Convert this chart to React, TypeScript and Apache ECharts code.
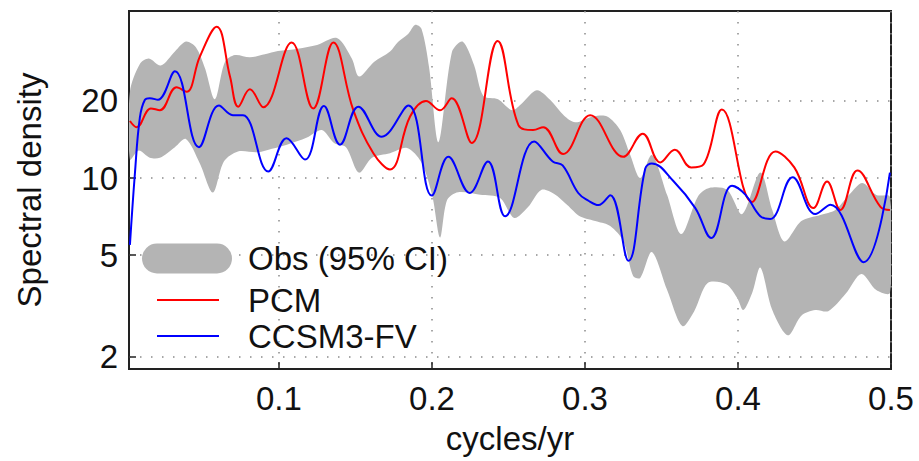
import React, { useEffect, useRef } from "react";
import * as echarts from "echarts";

// ---- Data (frequency in cycles/yr, spectral density) ----
const pcmFreq = [0.0026, 0.007, 0.0163, 0.0222, 0.0331, 0.0396, 0.0483, 0.0593, 0.068, 0.0734, 0.081, 0.0897, 0.1083, 0.1224, 0.1355, 0.1486, 0.1617, 0.1726, 0.1857, 0.1961, 0.2053, 0.2129, 0.226, 0.2429, 0.2565, 0.2661, 0.2727, 0.2857, 0.3034, 0.325, 0.3377, 0.3492, 0.3587, 0.3694, 0.3775, 0.3895, 0.4092, 0.4244, 0.4368, 0.4494, 0.4582, 0.4669, 0.478, 0.4931, 0.4993];
const pcmDensity = [16.7, 15.8, 18.7, 18.4, 22.6, 21.7, 29.8, 39.0, 24.9, 19.0, 22.2, 18.9, 33.8, 18.7, 33.8, 18.4, 12.5, 10.8, 17.4, 20.0, 18.4, 20.5, 13.7, 34.3, 16.1, 15.4, 15.8, 12.4, 17.6, 12.1, 14.9, 11.5, 12.9, 11.0, 11.3, 18.5, 8.06, 12.7, 11.0, 7.63, 9.7, 7.5, 10.7, 7.72, 7.5];

const ccsmFreq = [0.0026, 0.0058, 0.0091, 0.0124, 0.0156, 0.0209, 0.032, 0.0477, 0.0608, 0.0699, 0.0765, 0.093, 0.105, 0.117, 0.1294, 0.1399, 0.1519, 0.1672, 0.1846, 0.1999, 0.2107, 0.2247, 0.2366, 0.2478, 0.2668, 0.2789, 0.2854, 0.2956, 0.3023, 0.3088, 0.3165, 0.3284, 0.3394, 0.3437, 0.3579, 0.3721, 0.3825, 0.3961, 0.4048, 0.4146, 0.4211, 0.4357, 0.4505, 0.4604, 0.4821, 0.4993];
const ccsmDensity = [5.48, 10.3, 17.2, 20.2, 20.5, 20.2, 26.1, 13.2, 19.2, 17.6, 17.6, 10.6, 14.3, 11.8, 19.1, 13.5, 19.0, 14.5, 19.2, 8.54, 12.1, 8.74, 11.6, 7.09, 13.9, 11.6, 11.2, 8.74, 8.15, 7.84, 8.57, 4.75, 10.9, 11.4, 9.71, 7.63, 5.83, 9.32, 8.61, 7.09, 6.92, 10.06, 7.23, 7.87, 4.69, 10.5];

const obsUpperFreq = [0.0026, 0.0091, 0.015, 0.0228, 0.032, 0.0392, 0.0457, 0.0516, 0.0581, 0.0647, 0.0712, 0.081, 0.0908, 0.0993, 0.1124, 0.1249, 0.1379, 0.1477, 0.1523, 0.1621, 0.1726, 0.1778, 0.1844, 0.1889, 0.1932, 0.1981, 0.2043, 0.2131, 0.22, 0.2275, 0.2336, 0.2432, 0.2524, 0.2589, 0.2685, 0.2772, 0.2864, 0.2936, 0.3054, 0.3145, 0.323, 0.3296, 0.3361, 0.3437, 0.3537, 0.3629, 0.374, 0.3812, 0.393, 0.4028, 0.4146, 0.4224, 0.4303, 0.4414, 0.4538, 0.4636, 0.4728, 0.4813, 0.4904, 0.4993];
const obsUpperDensity = [21.7, 27.9, 29.3, 27.5, 31.2, 34.1, 32.4, 26.9, 20.3, 28.4, 30.2, 29.6, 30.4, 31.3, 32.0, 33.1, 35.2, 29.2, 24.9, 28.4, 31.2, 34.0, 36.5, 39.6, 38.2, 27.1, 13.8, 31.1, 34.1, 27.6, 20.9, 20.3, 18.4, 19.6, 22.0, 20.2, 17.5, 16.5, 17.4, 17.4, 15.4, 12.3, 10.0, 12.3, 8.58, 6.04, 8.51, 9.14, 8.98, 7.23, 10.5, 7.5, 5.65, 6.79, 7.17, 7.5, 8.62, 9.56, 8.58, 8.43];

const obsLowerFreq = [0.0026, 0.0084, 0.0156, 0.0222, 0.032, 0.0392, 0.0483, 0.0568, 0.064, 0.0732, 0.0863, 0.0954, 0.1052, 0.1183, 0.1281, 0.136, 0.1438, 0.1523, 0.1608, 0.1726, 0.1837, 0.1929, 0.2001, 0.2053, 0.2099, 0.2171, 0.2315, 0.2445, 0.2537, 0.2628, 0.2714, 0.2799, 0.2884, 0.2969, 0.308, 0.3165, 0.325, 0.3315, 0.3361, 0.3437, 0.3537, 0.3636, 0.3714, 0.3802, 0.3923, 0.3995, 0.4035, 0.4093, 0.4146, 0.4224, 0.4326, 0.4414, 0.4505, 0.459, 0.4702, 0.4806, 0.4904, 0.4993];
const obsLowerDensity = [11.8, 12.8, 12.0, 12.0, 13.2, 14.2, 11.4, 8.78, 11.6, 12.7, 12.6, 13.0, 13.5, 14.4, 15.4, 13.7, 13.2, 10.5, 12.0, 12.5, 13.1, 11.55, 8.58, 5.85, 8.2, 8.8, 8.6, 8.35, 6.98, 7.7, 8.98, 8.66, 7.84, 7.07, 6.76, 6.49, 5.67, 4.14, 4.07, 5.14, 3.65, 2.64, 3.02, 3.89, 3.85, 3.4, 3.05, 3.56, 4.47, 3.05, 2.43, 2.9, 3.05, 3.02, 3.52, 4.22, 3.65, 3.56];

const xTickValues = [0.1, 0.2, 0.3, 0.4, 0.5];
const yTickValues = [2, 5, 10, 20];

const X_MIN = 0.002;
const X_MAX = 0.5;
const Y_MIN = 1.795;
const Y_MAX = 44.9;

const GRAY = "#b4b4b4";
const FONT = "'Liberation Sans', Arial, Helvetica, sans-serif";
const FS = 33;

export default function App() {
  const ref = useRef<HTMLDivElement>(null);

  useEffect(() => {
    if (!ref.current) return;
    const chart = echarts.init(ref.current, null, { renderer: "svg" });
    const lg = (v: number) => Math.log10(v);

    const pcm = pcmFreq.map((f, i) => [f, lg(pcmDensity[i])]);
    const ccsm = ccsmFreq.map((f, i) => [f, lg(ccsmDensity[i])]);
    const lineIcon = "path://M0,0H62V2H0Z";

    const option: any = {
      animation: false,
      textStyle: { fontFamily: FONT },
      grid: {
        left: 129,
        right: 28,
        top: 11,
        bottom: 92,
        show: true,
        borderColor: "#222",
        borderWidth: 2,
        backgroundColor: "transparent",
        outerBoundsMode: "none",
      },
      xAxis: {
        type: "value",
        min: X_MIN,
        max: X_MAX,
        name: "cycles/yr",
        nameLocation: "middle",
        nameGap: 53,
        nameTextStyle: { fontSize: FS, color: "#111", fontFamily: FONT },
        axisLine: { show: false },
        axisTick: {
          show: true,
          inside: true,
          length: 7,
          customValues: xTickValues,
          lineStyle: { color: "#222", width: 1.5 },
        },
        axisLabel: {
          customValues: xTickValues,
          margin: 13,
          fontSize: FS,
          color: "#111",
          fontFamily: FONT,
          formatter: (v: number) => v.toFixed(1),
        },
        splitLine: {
          show: true,
          lineStyle: { color: "#8a8a8a", width: 1.5, type: [1.5, 9.5] },
        },
      },
      yAxis: {
        type: "value",
        min: lg(Y_MIN),
        max: lg(Y_MAX),
        name: "Spectral density",
        nameLocation: "middle",
        nameGap: 83,
        nameRotate: 90,
        nameTextStyle: { fontSize: FS, color: "#111", fontFamily: FONT },
        axisLine: { show: false },
        axisTick: {
          show: true,
          inside: true,
          length: 7,
          customValues: yTickValues.map(lg),
          lineStyle: { color: "#222", width: 1.5 },
        },
        axisLabel: {
          customValues: yTickValues.map(lg),
          margin: 11,
          fontSize: FS,
          color: "#111",
          fontFamily: FONT,
          formatter: (v: number) => String(Math.round(Math.pow(10, v))),
        },
        splitLine: {
          show: true,
          lineStyle: { color: "#8a8a8a", width: 1.5, type: [1.5, 9.5] },
        },
      },
      legend: [
        {
          data: [
            {
              name: "Obs (95% CI)",
              icon: "path://M15,0H75A15,15,0,0,1,75,30H15A15,15,0,0,1,15,0Z",
            },
          ],
          left: 137,
          top: 237,
          itemWidth: 90,
          itemHeight: 30,
          selectedMode: false,
          textStyle: {
            fontSize: FS,
            color: "#111",
            fontFamily: FONT,
            padding: [0, 0, 0, 11],
          },
        },
        {
          data: [
            { name: "PCM", icon: lineIcon },
            { name: "CCSM3-FV", icon: lineIcon },
          ],
          orient: "vertical",
          left: 152,
          top: 278,
          itemWidth: 62,
          itemHeight: 14,
          itemGap: 2,
          selectedMode: false,
          textStyle: {
            fontSize: FS,
            lineHeight: 34,
            color: "#111",
            fontFamily: FONT,
            padding: [0, 0, 0, 24],
          },
        },
      ],
      series: [
        {
          type: "custom",
          name: "Obs (95% CI)",
          coordinateSystem: "cartesian2d",
          clip: true,
          silent: true,
          z: 1,
          itemStyle: { color: GRAY },
          data: [[obsUpperFreq[0], lg(obsUpperDensity[0])]],
          renderItem: (_params: any, api: any) => {
            const pts: number[][] = [];
            for (let i = 0; i < obsUpperFreq.length; i++) {
              pts.push(api.coord([obsUpperFreq[i], lg(obsUpperDensity[i])]));
            }
            for (let i = obsLowerFreq.length - 1; i >= 0; i--) {
              pts.push(api.coord([obsLowerFreq[i], lg(obsLowerDensity[i])]));
            }
            return {
              type: "polygon",
              shape: { points: pts, smooth: 0.3 },
              style: { fill: GRAY },
            };
          },
        },
        {
          type: "line",
          name: "PCM",
          data: pcm,
          smooth: 0.4,
          symbol: "none",
          z: 3,
          lineStyle: { color: "#ff0000", width: 2 },
          itemStyle: { color: "#ff0000" },
        },
        {
          type: "line",
          name: "CCSM3-FV",
          data: ccsm,
          smooth: 0.4,
          symbol: "none",
          z: 4,
          lineStyle: { color: "#0000ff", width: 2 },
          itemStyle: { color: "#0000ff" },
        },
      ],
    };

    chart.setOption(option);
    return () => chart.dispose();
  }, []);

  return (
    <div
      ref={ref}
      style={{ position: "absolute", left: 0, top: 0, width: 919, height: 461 }}
    />
  );
}
